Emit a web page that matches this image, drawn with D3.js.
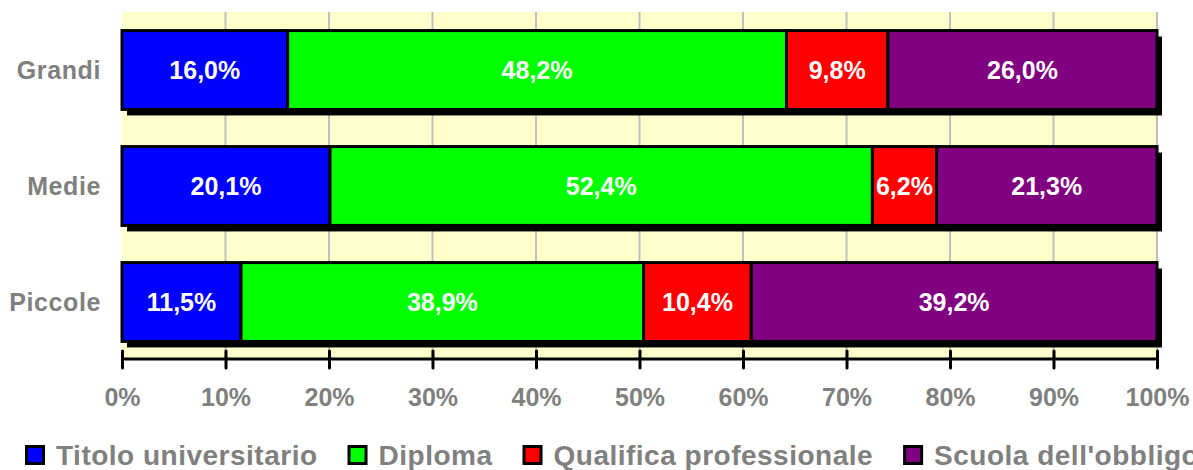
<!DOCTYPE html>
<html>
<head>
<meta charset="utf-8">
<script src="https://cdn.jsdelivr.net/npm/d3@7"></script>
<style>
  body { margin: 0; background: #fff; }
  text { font-family: "Liberation Sans", Arial, sans-serif; font-weight: bold; }
</style>
</head>
<body>
<div id="chart"></div>
<script>
// categories (top to bottom) and series, percentages
const categories = ["Grandi", "Medie", "Piccole"];
const seriesNames = ["Titolo universitario", "Diploma", "Qualifica professionale", "Scuola dell'obbligo"];
const seriesColors = ["#0000ff", "#00ff00", "#ff0000", "#800080"];
const titoloUniv = [16.0, 20.1, 11.5];
const diploma = [48.2, 52.4, 38.9];
const qualifica = [9.8, 6.2, 10.4];
const scuolaObbligo = [26.0, 21.3, 39.2];
const tickValues = [0, 10, 20, 30, 40, 50, 60, 70, 80, 90, 100];

const width = 1193, height = 470;
const seriesValues = [titoloUniv, diploma, qualifica, scuolaObbligo];

const svg = d3.select("#chart").append("svg")
    .attr("width", width)
    .attr("height", height);

const x = d3.scaleLinear().domain([0, 100]).range([122, 1157]);
const y = d3.scaleBand().domain(categories).range([12, 360])
    .paddingInner(0.32).paddingOuter(0.16);

const fmt = v => v.toFixed(1).replace(".", ",") + "%";

// plot background
svg.append("rect")
    .attr("x", x(0)).attr("y", 12)
    .attr("width", x(100) - x(0)).attr("height", 347)
    .attr("fill", "#ffffcc");

// vertical gridlines
svg.append("g").selectAll("line")
    .data(tickValues.slice(1))
    .enter().append("line")
    .attr("x1", d => x(d)).attr("x2", d => x(d))
    .attr("y1", 12).attr("y2", 358)
    .attr("stroke", "#c0c0c0")
    .attr("stroke-width", 2);

// stacked data
const rows = categories.map((c, i) => {
    let acc = 0;
    return {
        cat: c,
        segs: seriesValues.map((s, j) => {
            const seg = { cat: c, start: acc, value: s[i], color: seriesColors[j] };
            acc += s[i];
            return seg;
        })
    };
});

const barG = svg.append("g").selectAll("g")
    .data(rows)
    .enter().append("g");

// shadow
barG.append("rect")
    .attr("x", x(0) + 5)
    .attr("y", d => y(d.cat) + 6)
    .attr("width", x(100) - x(0))
    .attr("height", y.bandwidth())
    .attr("fill", "#000");

barG.selectAll("rect.seg")
    .data(d => d.segs)
    .enter().append("rect")
    .attr("class", "seg")
    .attr("x", d => x(d.start))
    .attr("y", d => y(d.cat))
    .attr("width", d => x(d.start + d.value) - x(d.start))
    .attr("height", y.bandwidth())
    .attr("fill", d => d.color)
    .attr("stroke", "#000")
    .attr("stroke-width", 3);

barG.selectAll("text")
    .data(d => d.segs)
    .enter().append("text")
    .attr("x", d => x(d.start + d.value / 2))
    .attr("y", d => y(d.cat) + y.bandwidth() / 2)
    .attr("dy", "0.36em")
    .attr("text-anchor", "middle")
    .attr("fill", "#fff")
    .style("font-size", "25px")
    .text(d => fmt(d.value));

// category labels
svg.append("g").selectAll("text")
    .data(categories)
    .enter().append("text")
    .attr("x", 101)
    .attr("y", d => y(d) + y.bandwidth() / 2)
    .attr("dy", "0.36em")
    .attr("text-anchor", "end")
    .attr("fill", "#808080")
    .style("font-size", "25px")
    .style("letter-spacing", "0.6px")
    .text(d => d);

// x axis
const axis = d3.axisBottom(x)
    .tickValues(tickValues)
    .tickSize(0)
    .tickFormat(d => d + "%");

const axisG = svg.append("g")
    .attr("transform", "translate(0,359)")
    .call(axis);
axisG.select(".domain").remove();
axisG.append("line")
    .attr("x1", x(0)).attr("x2", x(100))
    .attr("stroke", "#000").attr("stroke-width", 3);
axisG.selectAll(".tick").append("line")
    .attr("y1", -8).attr("y2", 9)
    .attr("stroke", "#000").attr("stroke-width", 3)
    .attr("stroke-linecap", "round");
axisG.selectAll(".tick text")
    .attr("y", 38)
    .attr("dy", "0.36em")
    .attr("fill", "#808080")
    .style("font-size", "25px")
    .style("font-family", "'Liberation Sans', Arial, sans-serif")
    .style("font-weight", "bold");

// legend
const legend = svg.append("g").attr("transform", "translate(0,455)");
let lx = 25;
seriesNames.forEach((name, i) => {
    legend.append("rect")
        .attr("x", lx + 1.5).attr("y", -8.5)
        .attr("width", 17).attr("height", 17)
        .attr("fill", seriesColors[i])
        .attr("stroke", "#000")
        .attr("stroke-width", 3);
    const t = legend.append("text")
        .attr("x", lx + 31)
        .attr("dy", "0.36em")
        .attr("fill", "#808080")
        .style("font-size", "28px")
        .style("letter-spacing", "0.5px")
        .text(name);
    lx += 31 + t.node().getComputedTextLength() + 30;
});
</script>
</body>
</html>
